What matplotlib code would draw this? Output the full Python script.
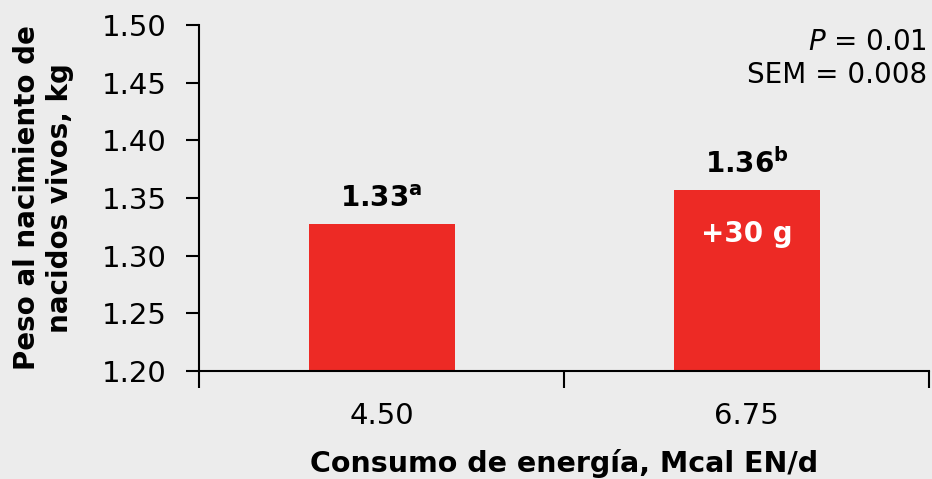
import matplotlib
matplotlib.use("Agg")
import matplotlib.pyplot as plt

# data
categories = ["4.50", "6.75"]
weights = [1.327, 1.357]
value_labels = ["1.33", "1.36"]
letters = ["a", "b"]
bar_notes = ["", "+30 g"]
y_ticks = [1.20, 1.25, 1.30, 1.35, 1.40, 1.45, 1.50]

plt.rcParams["font.family"] = "DejaVu Sans"
plt.rcParams["mathtext.fontset"] = "dejavusans"

bg = "#ececec"
red = "#ed2a25"

fig = plt.figure(figsize=(9.32, 4.79), dpi=100, facecolor=bg)
ax = fig.add_axes([0.2135, 0.2255, 0.7835, 0.7225])
ax.set_facecolor("none")

x = list(range(len(categories)))
ax.bar(x, weights, width=0.4, color=red, bottom=0, zorder=2)

ax.set_ylim(1.20, 1.50)
ax.set_xlim(-0.5, len(categories) - 0.5)

# y axis
ax.set_yticks(y_ticks)
ax.set_yticklabels([f"{t:.2f}" for t in y_ticks])
ax.tick_params(axis="y", length=9.5, width=1.5, pad=14, labelsize=21)

# x axis: boundary ticks as major, labels on minor
ax.set_xticks([i - 0.5 for i in range(len(categories) + 1)])
ax.set_xticklabels([])
ax.tick_params(axis="x", which="major", length=12, width=1.5)
ax.set_xticks(x, minor=True)
ax.set_xticklabels(categories, minor=True)
ax.tick_params(axis="x", which="minor", length=0, pad=22, labelsize=21)

for side in ["top", "right"]:
    ax.spines[side].set_visible(False)
for side in ["left", "bottom"]:
    ax.spines[side].set_linewidth(1.5)

ax.set_xlabel("Consumo de energía, Mcal EN/d", fontsize=20.5, fontweight="bold",
              labelpad=14)
ax.set_ylabel("Peso al nacimiento de\nnacidos vivos, kg", fontsize=20,
              fontweight="bold", labelpad=20, linespacing=1.2)

# value labels over bars
for xi, w, lab, let in zip(x, weights, value_labels, letters):
    ax.annotate(lab + r"$^{\mathbf{" + let + "}}$", (xi, w),
                xytext=(0, 8), textcoords="offset points",
                ha="center", va="bottom", fontsize=20, fontweight="bold")

for xi, w, note in zip(x, weights, bar_notes):
    if note:
        ax.annotate(note, (xi, w), xytext=(0, -32), textcoords="offset points",
                    ha="center", va="center", fontsize=20, fontweight="bold",
                    color="white")

ax.text(0.997, 0.95, r"$P$ = 0.01", transform=ax.transAxes, ha="right",
        va="center", fontsize=20)
ax.text(0.997, 0.855, "SEM = 0.008", transform=ax.transAxes, ha="right",
        va="center", fontsize=20)

fig.savefig("out.png", dpi=100, facecolor=bg)
